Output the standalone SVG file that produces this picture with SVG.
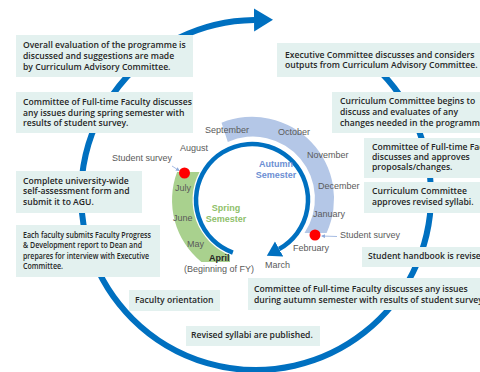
<svg xmlns="http://www.w3.org/2000/svg" width="480" height="372" viewBox="0 0 480 372">
<defs>
<style>
.box{fill:#e3f1ef}
.bt{font-family:"Open Sans","Noto Sans","Liberation Sans",sans-serif;font-size:8.6px;font-weight:600;fill:#262626}
.mo{font-family:"Liberation Sans",Arial,sans-serif;font-size:9px;fill:#5a5a5a}
.sem{font-family:"Liberation Sans",Arial,sans-serif;font-size:9px;font-weight:bold;text-anchor:middle}
.big{fill:none;stroke:#0070c0;stroke-width:6}
.ring{fill:none;stroke:#0070c0;stroke-width:4.5}
.ptr{fill:none;stroke:#8eaadb;stroke-width:0.8}
.dot{fill:#ff0000}
</style>
<marker id="bigHead" markerUnits="userSpaceOnUse" markerWidth="20" markerHeight="24" refX="0" refY="11.5" orient="auto">
<path d="M0,0 L19,11.5 L0,23 Z" fill="#0070c0"/>
</marker>
<marker id="ringHead" markerUnits="userSpaceOnUse" markerWidth="16" markerHeight="18" refX="0" refY="8.5" orient="auto">
<path d="M0,0 L14,8.5 L0,17 Z" fill="#0070c0"/>
</marker>
<marker id="ptrHead" markerUnits="userSpaceOnUse" markerWidth="5" markerHeight="5" refX="3" refY="2" orient="auto">
<path d="M0,0 L4,2 L0,4 Z" fill="#8eaadb"/>
</marker>
</defs>
<rect width="480" height="372" fill="#ffffff"/>

<g id="connectors">
<path class="big" d="M 351.3 48.2 A 175 175 0 1 1 254 20" marker-end="url(#bigHead)"/>
<path class="ptr" d="M 172 166 L 179 170.5" marker-end="url(#ptrHead)"/>
<path class="ptr" d="M 337 236.5 L 322 236" marker-end="url(#ptrHead)"/>
</g>

<g id="calendar">
<path d="M 221.5 122.7 A 82 82 0 0 1 326.6 233 L 304.5 233 A 62 62 0 0 0 227.8 141.9 Z" fill="#b4c7e7"/>
<path d="M 201.4 262 A 80 80 0 0 1 177.1 172 L 199.5 172 A 59.5 59.5 0 0 0 230 255.2 L 230 262 Z" fill="#a9d18e"/>
<path class="ring" d="M 232.85 252.6 A 56 56 0 1 1 279.1 249" marker-end="url(#ringHead)"/>
<circle class="dot" cx="184.5" cy="173" r="5.5"/>
<circle class="dot" cx="315" cy="235" r="5.5"/>
<text class="mo" x="205" y="133">September</text>
<text class="mo" x="278" y="135">October</text>
<text class="mo" x="307" y="158">November</text>
<text class="mo" x="318" y="189">December</text>
<text class="mo" x="313" y="217">January</text>
<text class="mo" x="293" y="251">February</text>
<text class="mo" x="265" y="268">March</text>
<text class="mo" x="209" y="261" style="font-weight:bold;fill:#262626">April</text>
<text class="mo" x="184" y="272">(Beginning of FY)</text>
<text class="mo" x="187" y="247">May</text>
<text class="mo" x="173" y="221">June</text>
<text class="mo" x="175" y="191">July</text>
<text class="mo" x="180" y="151">August</text>
<text class="mo" x="112" y="161">Student survey</text>
<text class="mo" x="340" y="238">Student survey</text>
<text class="sem" x="276" y="167" fill="#6d8fd3">Autumn</text>
<text class="sem" x="276" y="178" fill="#6d8fd3">Semester</text>
<text class="sem" x="226" y="211" fill="#8fbf6a">Spring</text>
<text class="sem" x="226" y="222" fill="#8fbf6a">Semester</text>
</g>

<g id="n1">
<rect class="box" x="16" y="35" width="177" height="42"/>
<text class="bt"><tspan x="23" y="48.3">Overall evaluation of the programme is</tspan><tspan x="23" y="59">discussed and suggestions are made</tspan><tspan x="23" y="69.5">by Curriculum Advisory Committee.</tspan></text>
</g>
<g id="n2">
<rect class="box" x="16" y="92" width="177" height="41"/>
<text class="bt"><tspan x="23" y="105">Committee of Full-time Faculty discusses</tspan><tspan x="23" y="115.5">any issues during spring semester with</tspan><tspan x="23" y="126">results of student survey.</tspan></text>
</g>
<g id="n3">
<rect class="box" x="16" y="171" width="126" height="42"/>
<text class="bt"><tspan x="23" y="184">Complete university-wide</tspan><tspan x="23" y="194.3">self-assessment form and</tspan><tspan x="23" y="204.6">submit it to AGU.</tspan></text>
</g>
<g id="n4">
<rect class="box" x="16" y="225" width="144" height="52"/>
<text class="bt"><tspan x="23" y="237.7" textLength="128" lengthAdjust="spacingAndGlyphs">Each faculty submits Faculty Progress</tspan><tspan x="23" y="248.3" textLength="119" lengthAdjust="spacingAndGlyphs">&amp; Development report to Dean and</tspan><tspan x="23" y="259" textLength="126" lengthAdjust="spacingAndGlyphs">prepares for interview with Executive</tspan><tspan x="23" y="269.4" textLength="40" lengthAdjust="spacingAndGlyphs">Committee.</tspan></text>
</g>
<g id="n5">
<rect class="box" x="129" y="290" width="91" height="21"/>
<text class="bt" x="135" y="303.3">Faculty orientation</text>
</g>
<g id="n6">
<rect class="box" x="186" y="326" width="134" height="20"/>
<text class="bt" x="191" y="337.7">Revised syllabi are published.</text>
</g>
<g id="n7">
<rect class="box" x="277" y="43" width="210" height="34"/>
<text class="bt"><tspan x="285" y="57.8">Executive Committee discusses and considers</tspan><tspan x="285" y="68">outputs from Curriculum Advisory Committee.</tspan></text>
</g>
<g id="n8">
<rect class="box" x="332" y="92" width="150" height="41"/>
<text class="bt"><tspan x="340" y="104.3">Curriculum Committee begins to</tspan><tspan x="340" y="115">discuss and evaluates of any</tspan><tspan x="340" y="125.7">changes needed in the programme.</tspan></text>
</g>
<g id="n9">
<rect class="box" x="364" y="138" width="120" height="40"/>
<text class="bt"><tspan x="372" y="150">Committee of Full-time Faculty</tspan><tspan x="372" y="160.3">discusses and approves</tspan><tspan x="372" y="170.3">proposals/changes.</tspan></text>
</g>
<g id="n10">
<rect class="box" x="364" y="182" width="120" height="31"/>
<text class="bt"><tspan x="372" y="194.3">Curriculum Committee</tspan><tspan x="372" y="205">approves revised syllabi.</tspan></text>
</g>
<g id="n11">
<rect class="box" x="362" y="247" width="120" height="20"/>
<text class="bt" x="368" y="258.5">Student handbook is revised.</text>
</g>
<g id="n12">
<rect class="box" x="248" y="278" width="240" height="32"/>
<text class="bt"><tspan x="254" y="291.7">Committee of Full-time Faculty discusses any issues</tspan><tspan x="254" y="302.7">during autumn semester with results of student survey.</tspan></text>
</g>
</svg>
